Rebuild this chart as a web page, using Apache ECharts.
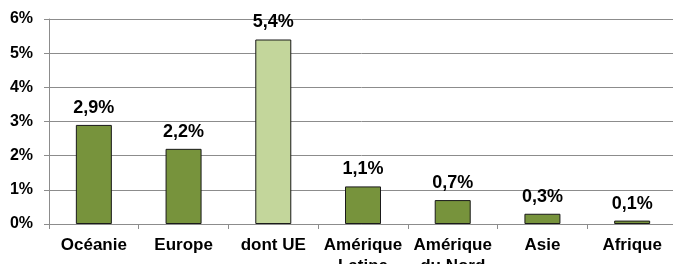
<!DOCTYPE html>
<html lang="fr">
<head>
    <meta charset="UTF-8">
    <script src="https://cdn.jsdelivr.net/npm/echarts@6/dist/echarts.min.js"></script>
    <style>
        html, body { margin: 0; padding: 0; background: #fff; }
        #chart { width: 673px; height: 264px; }
    </style>
</head>
<body>
    <div id="chart"></div>
    <script>
        // categories et valeurs (en %)
        const categories = ['Océanie', 'Europe', 'dont UE', 'Amérique\nLatine', 'Amérique\ndu Nord', 'Asie', 'Afrique']
        const values = [2.9, 2.2, 5.4, 1.1, 0.7, 0.3, 0.1]
        const yTicks = [0, 1, 2, 3, 4, 5, 6]

        const darkGreen = '#77933c'
        const lightGreen = '#c3d69b'
        const font = 'Liberation Sans, Arial, sans-serif'

        const barData = values.map((v, i) => ({
            value: v,
            itemStyle: { color: categories[i] === 'dont UE' ? lightGreen : darkGreen }
        }))

        const myChart = echarts.init(document.getElementById('chart'))
        myChart.setOption({
            animation: false,
            grid: { left: 49, right: -4, top: 19, bottom: 40, outerBoundsMode: 'none', containLabel: false },
            xAxis: {
                type: 'category',
                data: categories,
                axisLine: { lineStyle: { color: '#8c8c8c', width: 1 } },
                axisTick: { show: true, length: 5, lineStyle: { color: '#8c8c8c' } },
                axisLabel: {
                    interval: 0,
                    margin: 11,
                    color: '#000',
                    fontFamily: font,
                    fontWeight: 'bold',
                    fontSize: 17,
                    lineHeight: 21
                }
            },
            yAxis: {
                type: 'value',
                min: yTicks[0],
                max: yTicks[yTicks.length - 1],
                interval: 1,
                axisLine: { show: true, lineStyle: { color: '#8c8c8c', width: 1 } },
                axisTick: { show: true, length: 5, lineStyle: { color: '#8c8c8c' } },
                splitLine: { lineStyle: { color: '#8c8c8c', width: 1 } },
                axisLabel: {
                    margin: 16,
                    color: '#000',
                    fontFamily: font,
                    fontWeight: 'bold',
                    fontSize: 16,
                    formatter: v => v + '%'
                }
            },
            series: [{
                type: 'bar',
                data: barData,
                barWidth: 36,
                itemStyle: { borderColor: '#1a1a1a', borderWidth: 1 },
                label: {
                    show: true,
                    position: 'top',
                    distance: 8,
                    color: '#000',
                    fontFamily: font,
                    fontWeight: 'bold',
                    fontSize: 18,
                    formatter: p => p.value.toFixed(1).replace('.', ',') + '%'
                }
            }]
        })
    </script>
</body>
</html>
